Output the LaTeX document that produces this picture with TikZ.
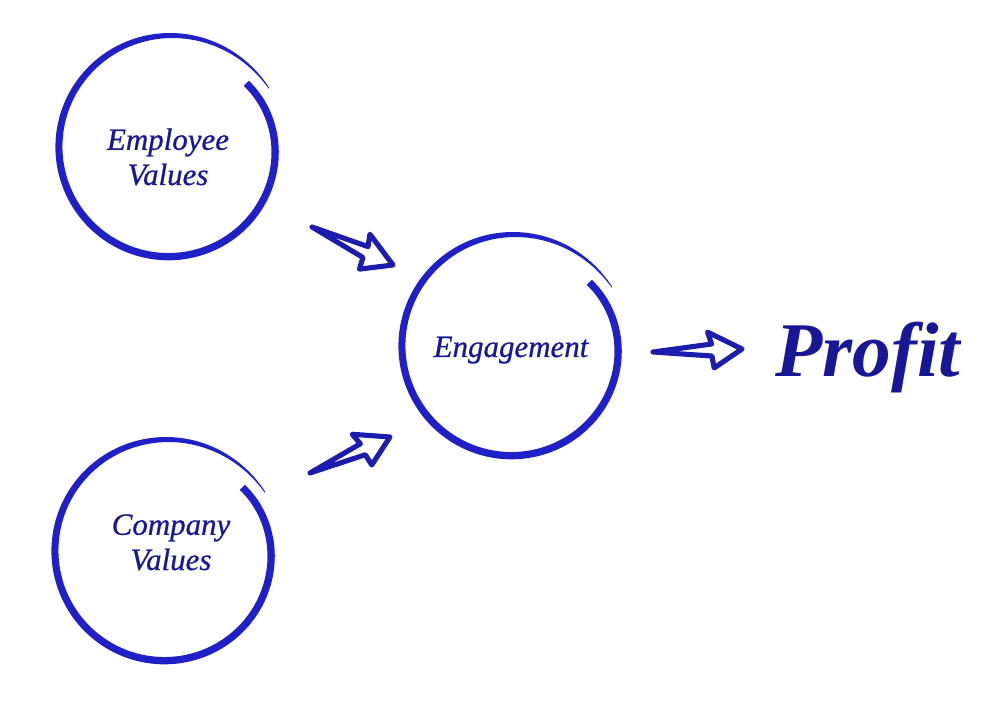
\documentclass[tikz,border=0pt]{standalone}
\usepackage{fontspec}
\setmainfont{Liberation Serif}
\newfontfamily\lblfont{Liberation Serif}[ItalicFeatures={FakeBold=0.7}]
\usetikzlibrary{calc}
\definecolor{ringblue}{RGB}{32,32,200}
\definecolor{textblue}{RGB}{24,24,150}
\definecolor{arrowblue}{RGB}{28,28,175}
\tikzset{
  declare function={rr(\t)=110-10*(1-\t)^8+6*(\t)^8; ww(\t)=6.5*(1-(\t)^6)+0.8;},
  lbl/.style={text=textblue, font=\fontsize{8.8pt}{10pt}\selectfont\lblfont\itshape, align=center, inner sep=0pt},
  bigword/.style={text=textblue, font=\fontsize{22pt}{26pt}\selectfont\bfseries\itshape, inner sep=0pt},
  handarrow/.style={draw=arrowblue, line width=1.45pt, line join=round, line cap=round,
    to path={ -- ($(\tikztostart)!0.66!(\tikztotarget)!0.06cm!90:(\tikztotarget)$)
              -- ($(\tikztostart)!0.62!(\tikztotarget)!0.18cm!90:(\tikztotarget)$)
              -- (\tikztotarget)
              -- ($(\tikztostart)!0.68!(\tikztotarget)!0.18cm!-90:(\tikztotarget)$)
              -- ($(\tikztostart)!0.66!(\tikztotarget)!0.06cm!-90:(\tikztotarget)$)
              -- cycle}},
  ring/.pic={
    \fill[ringblue]
      plot[domain=0.001:0.999, samples=160, variable=\s]
        ({(rr(\s)+ww(\s)/2)*cos(40-370*\s)}, {(rr(\s)+ww(\s)/2)*sin(40-370*\s)})
      -- plot[domain=0.999:0.001, samples=160, variable=\s]
        ({(rr(\s)-ww(\s)/2)*cos(40-370*\s)}, {(rr(\s)-ww(\s)/2)*sin(40-370*\s)})
      -- cycle;
  }
}
\begin{document}
\begin{tikzpicture}[x=0.01cm, y=0.01cm]
  \fill[white] (0,0) rectangle (1000,709);
  \useasboundingbox (0,0) rectangle (1000,709);

  % circles
  \coordinate (c1) at (169,562);
  \coordinate (c2) at (165,158);
  \coordinate (c3) at (512,363);
  \pic at (c1) {ring};
  \pic at (c2) {ring};
  \pic at (c3) {ring};

  % labels (base = baseline of last line)
  \node[lbl, anchor=base] (emp) at (168,524) {Employee\\Values};
  \node[lbl, anchor=base] (comp) at (171,139) {Company\\Values};
  \node[lbl, anchor=base] (eng) at (511,352) {Engagement};
  \node[bigword, anchor=base] (profit) at (868,332) {Profit};

  % arrows
  \coordinate (t1) at (312,482); \coordinate (h1) at (393,444);
  \coordinate (t2) at (310,236); \coordinate (h2) at (390,272);
  \coordinate (t3) at (653,357); \coordinate (h3) at (742,360);
  \draw[handarrow] (t1) to (h1);
  \draw[handarrow] (t2) to (h2);
  \draw[handarrow] (t3) to (h3);
\end{tikzpicture}
\end{document}
